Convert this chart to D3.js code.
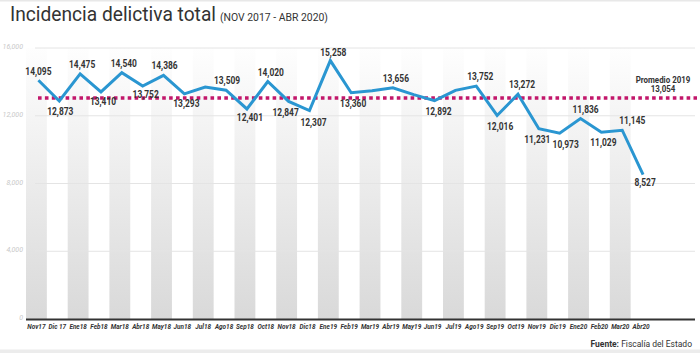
<!DOCTYPE html>
<html><head><meta charset="utf-8">
<script src="https://cdn.jsdelivr.net/npm/d3@7"></script>
<style>body{margin:0;background:#fff}svg{display:block;font-family:Roboto,"Noto Sans",sans-serif}</style>
</head><body><svg id="c" width="700" height="353"></svg>
<script>
const months = ["Nov17","Dic 17","Ene18","Feb18","Mar18","Abr18","May18","Jun18","Jul18","Ago18","Sep18","Oct18","Nov18","Dic18","Ene19","Feb19","Mar19","Abr19","May19","Jun19","Jul19","Ago19","Sep19","Oct19","Nov19","Dic19","Ene20","Feb20","Mar20","Abr20"];
const values = [14095,12873,14475,13410,14540,13752,14386,13293,13700,13509,12401,14020,12847,12307,15258,13360,13480,13656,13250,12892,13500,13752,12016,13272,11231,10973,11836,11029,11145,8527];
const showLabel = [1,1,1,1,1,1,1,1,0,1,1,1,1,1,1,1,0,1,0,1,0,1,1,1,1,1,1,1,1,1];
// label offsets [dx, dy] relative to the point
const labelOffsets = [[0,-5],[1,14],[2,-6],[2,13],[2,-6],[3,12],[1,-6],[2,13],[0,0],[1,-6],[3,12],[3,-6],[-3,15],[4,15],[3,-5],[2,14],[0,0],[3,-6],[0,0],[4,14],[0,0],[4,-6],[3,15],[4,-6],[-1.5,14],[6,15],[5,-6],[2,14],[10,-6],[2,11]];
const yTicks = [0,4000,8000,12000,16000];
const avg2019 = 13054;

const svg = d3.select("#c");
const x = d3.scaleBand().domain(months).range([26, 26 + 30*20.85]).padding(0);
const y = d3.scaleLinear().domain([0,16000]).range([319,48]);
const cx = m => x(m) + x.bandwidth()/2;

function squeeze(sel, f){
  sel.each(function(){ const w=this.getComputedTextLength(); d3.select(this).attr("textLength",w*f).attr("lengthAdjust","spacingAndGlyphs"); });
}

// borders
svg.append("rect").attr("x",0).attr("y",0).attr("width",700).attr("height",1.5).attr("fill","#e8e8e8");
svg.append("rect").attr("x",0).attr("y",349.5).attr("width",700).attr("height",3.5).attr("fill","#ececec");

const defs = svg.append("defs");
const g = defs.append("linearGradient").attr("id","bg").attr("x1",0).attr("y1",0).attr("x2",0).attr("y2",1);
g.append("stop").attr("offset","0%").attr("stop-color","#fefefe");
g.append("stop").attr("offset","100%").attr("stop-color","#d9d9d9");

// bands
svg.append("g").selectAll("rect").data(months.filter((m,i)=>i%2===0)).join("rect")
  .attr("x",d=>x(d)).attr("y",y(16000)).attr("width",x.bandwidth()).attr("height",y(0)-y(16000))
  .attr("fill","url(#bg)");

// grid
svg.append("g").selectAll("line").data(yTicks.filter(d=>d>0)).join("line")
  .attr("x1",35).attr("x2",695).attr("y1",d=>y(d)).attr("y2",d=>y(d))
  .attr("stroke","#e4e4e4").attr("stroke-width",1);

// y tick labels
svg.append("g").selectAll("text").data(yTicks).join("text")
  .attr("x",23).attr("y",d=>y(d)+1).attr("text-anchor","end")
  .attr("font-size",7).attr("font-style","italic").attr("fill","#c8c8c8")
  .text(d=>d3.format(",")(d));

// baseline
svg.append("line").attr("x1",26).attr("x2",695).attr("y1",y(0)+0.5).attr("y2",y(0)+0.5)
  .attr("stroke","#333").attr("stroke-width",2.2);

// x labels
svg.append("g").selectAll("text").data(months).join("text")
  .attr("x",d=>cx(d)).attr("y",329).attr("text-anchor","middle")
  .attr("font-size",8).attr("font-weight",700).attr("font-style","italic")
  .attr("fill","#333").text(d=>d).call(squeeze,0.8);

// average line
svg.append("line").attr("x1",38).attr("x2",697).attr("y1",y(avg2019)).attr("y2",y(avg2019))
  .attr("stroke","#c2176b").attr("stroke-width",3.5).attr("stroke-dasharray","3.6,3.3");

// line
const pts = months.map((m,i)=>({m,v:values[i],i}));
svg.append("path").datum(pts)
  .attr("d",d3.line().x(d=>cx(d.m)+2).y(d=>y(d.v)))
  .attr("fill","none").attr("stroke","#2a96d1").attr("stroke-width",3).attr("stroke-linejoin","miter");

// data labels
svg.append("g").selectAll("text").data(pts.filter(d=>showLabel[d.i])).join("text")
  .attr("x",d=>cx(d.m)+2+labelOffsets[d.i][0]).attr("y",d=>y(d.v)+labelOffsets[d.i][1])
  .attr("text-anchor","middle").attr("font-size",10.5).attr("font-weight",700)
  .attr("fill","#333")
  .text(d=>d3.format(",")(d.v)).call(squeeze,0.8);

// average label
svg.append("text").attr("x",663).attr("y",y(avg2019)-15).attr("text-anchor","middle")
  .attr("font-size",9).attr("font-weight",700).attr("fill","#333").text("Promedio 2019").call(squeeze,0.88);
svg.append("text").attr("x",663).attr("y",y(avg2019)-5.5).attr("text-anchor","middle")
  .attr("font-size",9).attr("font-weight",700).attr("fill","#333").text(d3.format(",")(avg2019)).call(squeeze,0.88);

// title
svg.append("text").attr("x",10).attr("y",21).attr("font-size",20.5).attr("fill","#333")
  .attr("textLength",206).attr("lengthAdjust","spacingAndGlyphs").text("Incidencia delictiva total");
svg.append("text").attr("x",220).attr("y",21).attr("font-size",10.5).attr("fill","#333")
  .attr("textLength",108).attr("lengthAdjust","spacingAndGlyphs").text("(NOV 2017 - ABR 2020)");

// source
const s = svg.append("text").attr("x",692).attr("y",347).attr("text-anchor","end").attr("font-size",8.5).attr("fill","#333");
s.append("tspan").attr("font-weight",700).text("Fuente: ");
s.append("tspan").text("Fiscalía del Estado");
</script></body></html>
